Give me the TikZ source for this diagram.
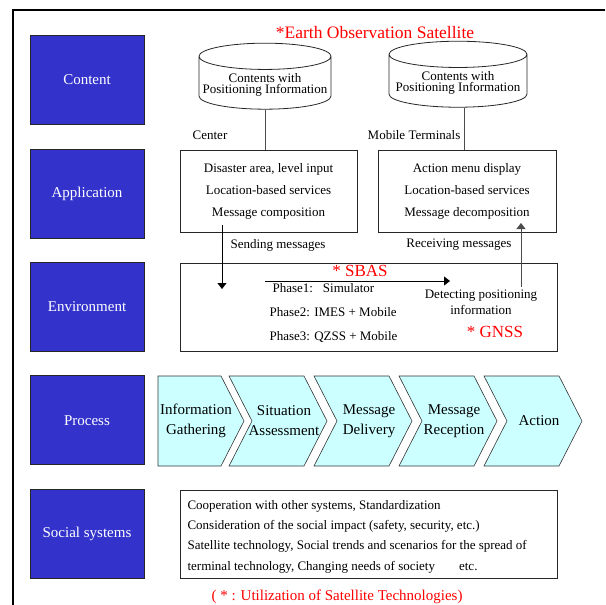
\documentclass[tikz,border=0pt]{standalone}
\usepackage{fontspec}
\setmainfont{Liberation Serif}
\usetikzlibrary{arrows.meta,shapes.geometric,positioning}
\definecolor{LayerBlue}{RGB}{51,51,204}
\definecolor{StepCyan} {RGB}{204,255,255}
\definecolor{SatRed}   {RGB}{255,0,0}
\newcommand{\fsz}[2]{\fontsize{#1}{#2}\selectfont}
\tikzset{
  %% layer labels (left column)
  layerbox/.style={rectangle,draw=black!85,fill=LayerBlue,text=white,
                   minimum width=114pt,minimum height=89pt,line width=0.8pt,
                   font=\fsz{15}{17}},
  %% white boxes
  infobox/.style={rectangle,draw=black!85,line width=0.8pt,align=center,
                  font=\fsz{13}{22}},
  dbcyl/.style={cylinder,shape border rotate=90,draw=black!85,line width=0.8pt,
                aspect=0.2,align=center,font=\fsz{13}{11.5}},
  %% process chevrons
  chevron/.style={draw=black!80,fill=StepCyan,line width=0.6pt},
  steptext/.style={align=center,font=\fsz{15}{20}},
  plain/.style={font=\fsz{13}{15},align=center},
  satnote/.style={text=SatRed,font=\fsz{17}{18}},
  %% arrows
  msgarr/.style={-{Triangle[length=6pt,width=9pt]},line width=0.9pt},
  link/.style={line width=0.9pt,draw=black!70},
}
\begin{document}
\begin{tikzpicture}[x=1pt,y=-1pt,node distance=23.6pt]
  \useasboundingbox (0,0) rectangle (605,605);
  \draw[line width=1.8pt] (13,605) -- (13,10) -- (605,10);

  %% layers
  \node[layerbox] (content) at (87,80) {Content};
  \node[layerbox, below=of content] (appl) {Application};
  \node[layerbox, below=of appl] (env) {Environment};
  \node[layerbox, below=of env] (proc) {Process};
  \node[layerbox, below=of proc] (soc) {Social systems};

  %% content
  \node[text=SatRed,font=\fsz{17.5}{18}] (eos) at (375,33) {*Earth Observation Satellite};
  \node[dbcyl,minimum width=132pt,minimum height=66pt] (cylC) at (265,85)
        {Contents with\\Positioning Information};
  \node[dbcyl,minimum width=138pt,minimum height=66pt] (cylM) at (458,83)
        {Contents with\\Positioning Information};
  \node[plain] (center) at (210,135) {Center};
  \node[plain] (mobile) at (414,135) {Mobile Terminals};

  %% application
  \node[infobox,minimum width=177pt,minimum height=82pt] (appC) at (268.5,191)
        {Disaster area, level input\\Location-based services\\Message composition};
  \node[infobox,minimum width=178pt,minimum height=82pt] (appM) at (467,191.5)
        {Action menu display\\Location-based services\\Message decomposition};
  \draw[link] (cylC.south) -- (cylC.south |- appC.north);
  \draw[link] ([xshift=6pt]cylM.south) -- ([xshift=6pt]cylM.south |- appM.north);
  \node[plain] (sendlbl) at (278,245) {Sending messages};
  \node[plain] (recvlbl) at (459,245) {Receiving messages};

  %% environment
  \node[infobox,minimum width=377pt,minimum height=88pt] (envbox) at (368.5,307) {};
  \node[satnote] (sbas) at (360,271) {* SBAS};
  \node[align=left,anchor=west,font=\fsz{13}{24}] (phases) at (266,313)
        {\hspace{3pt}Phase1:\hspace{10pt}Simulator\\Phase2: IMES + Mobile\\Phase3: QZSS + Mobile};
  \node[plain,font=\fsz{13}{16}] (detect) at (481,302) {Detecting positioning\\information};
  \node[satnote] (gnss) at (495,332) {* GNSS};

  \coordinate (sendA) at (222,225);
  \coordinate (sendB) at (222,289);
  \coordinate (satA)  at (265,281);
  \coordinate (satB)  at (450,281);
  \coordinate (recvA) at (521,287);
  \coordinate (recvB) at (521,223);
  \draw[msgarr] (sendA) -- (sendB);
  \draw[msgarr] (satA) -- (satB);
  \draw[msgarr,draw=black!70] (recvA) -- (recvB);

  %% process
  \draw[chevron] (158,376) -- (221,376) -- (244,421) -- (221,466) -- (158,466) -- cycle;
  \node[steptext] (step1) at (196,421) {Information\\Gathering};
  \foreach \n/\xl/\txt in {2/229/{Situation\\Assessment},3/314/{Message\\Delivery},
                           4/399/{Message\\Reception},5/484/{Action}} {
    \draw[chevron] (\xl,376) -- ++(75,0) -- ++(23,45) -- ++(-23,45)
                   -- ++(-75,0) -- ++(23,-45) -- cycle;
    \node[steptext] (step\n) at (\xl+55,421) {\txt};
  }

  %% social systems
  \node[infobox,minimum width=377pt,minimum height=88pt] (socbox) at (368.5,534) {};
  \node[align=left,anchor=west,font=\fsz{13}{20.3}] (soctext) at (184,536.5)
        {Cooperation with other systems, Standardization\\
         Consideration of the social impact (safety, security, etc.)\\
         Satellite technology, Social trends and scenarios for the spread of\\
         terminal technology, Changing needs of society\hspace{24pt}etc.};

  \node[text=SatRed,font=\fsz{15}{16}] (footnote) at (337,597)
        {( * : Utilization of Satellite Technologies)};
\end{tikzpicture}
\end{document}
